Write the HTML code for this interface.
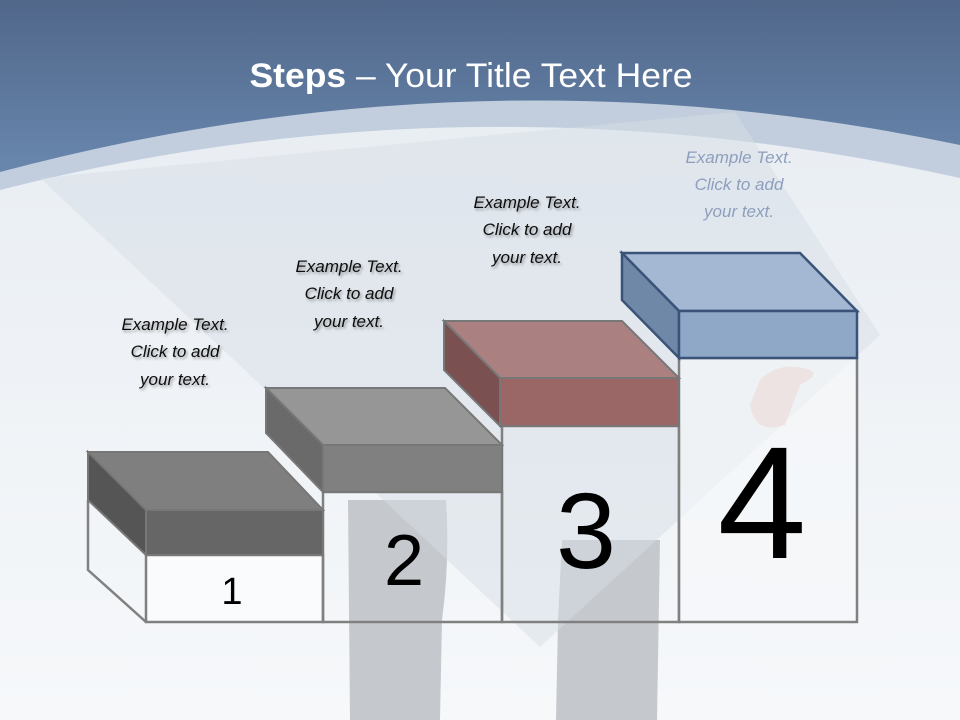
<!DOCTYPE html>
<html><head><meta charset="utf-8"><style>
html,body{margin:0;padding:0;width:960px;height:720px;overflow:hidden;background:#f4f6f9}
svg{display:block}
.t{font-family:"Liberation Sans",sans-serif;font-style:italic;font-size:17px}
</style></head><body>
<svg width="960" height="720" viewBox="0 0 960 720" xmlns="http://www.w3.org/2000/svg">
<defs>
<linearGradient id="hd" x1="0" y1="0" x2="0" y2="1">
<stop offset="0" stop-color="#50678a"/><stop offset="1" stop-color="#7393bb"/>
</linearGradient>
<linearGradient id="bg" x1="0" y1="0" x2="0" y2="1">
<stop offset="0" stop-color="#e9eef3"/><stop offset="1" stop-color="#f6f8fa"/>
</linearGradient>
<filter id="sh"><feDropShadow dx="1.5" dy="2" stdDeviation="1.2" flood-color="#000" flood-opacity="0.35"/></filter>
</defs>
<rect x="0" y="0" width="960" height="720" fill="url(#bg)"/>
<rect x="0" y="0" width="960" height="240" fill="url(#hd)"/>
<path d="M0,172 Q480,44 960,145 L960,720 L0,720 Z" fill="#c2cedd"/>
<path d="M0,190 Q470,70 960,178 L960,720 L0,720 Z" fill="url(#bg)"/>
<path d="M348,500 L446,500 Q450,560 442,620 L440,720 L350,720 Z" fill="#c5c9cd"/>
<path d="M562,540 L660,540 L657,720 L556,720 L558,620 Z" fill="#c5c9cd"/>
<polygon points="40,178 735,112 880,335 540,647" fill="#d6dde5" opacity="0.5"/>
<path d="M760,380 q20,-20 50,-10 q10,5 -10,15 l-15,40 q-30,10 -35,-20 z" fill="#d9a9a0" opacity="0.6"/>
<text x="471" y="87" text-anchor="middle" font-family="Liberation Sans, sans-serif" font-size="34" fill="#fff" textLength="443" lengthAdjust="spacingAndGlyphs"><tspan font-weight="bold">Steps</tspan> – Your Title Text Here</text>

<g stroke="#808080" stroke-width="2.5" fill="none">
<rect x="146" y="555" width="177" height="67" fill="#fafbfc"/>
<polyline points="88,500 88,570 146,622"/>
<rect x="323" y="492" width="179" height="130"/>
<rect x="502" y="426" width="177" height="196"/>
<rect x="679" y="358" width="178" height="264" fill="#f7f8fa" fill-opacity="0.6"/>
</g>
<g stroke="#777" stroke-width="2">
<polygon points="88,452 268,452 323,510 146,510" fill="#7f7f7f"/>
<polygon points="88,452 146,510 146,555 88,500" fill="#555"/>
<rect x="146" y="510" width="177" height="45" fill="#666"/>
</g>
<g stroke="#777" stroke-width="2">
<polygon points="266,388 445,388 502,445 323,445" fill="#969696"/>
<polygon points="266,388 323,445 323,492 266,433" fill="#6a6a6a"/>
<rect x="323" y="445" width="179" height="47" fill="#808080"/>
</g>
<g stroke="#777" stroke-width="2">
<polygon points="444,321 622,321 679,378 500,378" fill="#ab8080"/>
<polygon points="444,321 500,378 500,426 444,370" fill="#7a5050"/>
<rect x="500" y="378" width="179" height="48" fill="#9a6666"/>
</g>
<g stroke="#3b5378" stroke-width="2.5">
<polygon points="622,253 800,253 857,311 679,311" fill="#a5b8d3"/>
<polygon points="622,253 679,311 679,358 622,300" fill="#7088a8"/>
<rect x="679" y="311" width="178" height="47" fill="#8fa8c8"/>
</g>
<g font-family="Liberation Sans, sans-serif" fill="#000" text-anchor="middle">
<text x="232" y="604" font-size="38">1</text>
<text x="404" y="585" font-size="72">2</text>
<text x="586" y="568" font-size="108">3</text>
<text x="762" y="558" font-size="160">4</text>
</g>
<g class="t" text-anchor="middle" fill="#111" filter="url(#sh)">
<text x="175" y="330">Example Text.</text><text x="175" y="357">Click  to add</text><text x="175" y="385">your text.</text>
<text x="349" y="272">Example Text.</text><text x="349" y="299">Click  to add</text><text x="349" y="327">your text.</text>
<text x="527" y="208">Example Text.</text><text x="527" y="235">Click  to add</text><text x="527" y="263">your text.</text>
</g>
<g class="t" text-anchor="middle" fill="#8d9fbd">
<text x="739" y="163">Example Text.</text><text x="739" y="190">Click  to add</text><text x="739" y="217">your text.</text>
</g>
</svg>
</body></html>
